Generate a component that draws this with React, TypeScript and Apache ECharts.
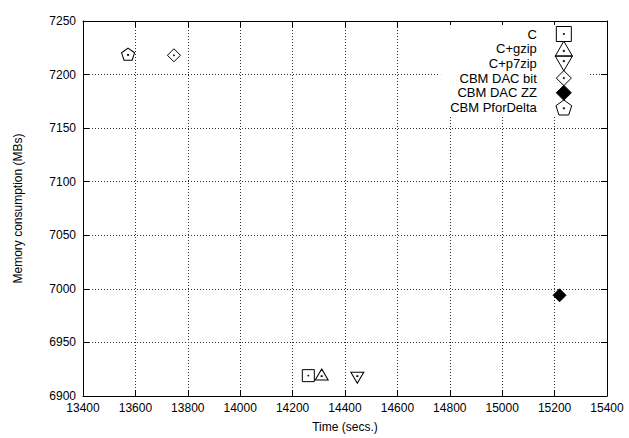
import React, { useEffect, useRef } from "react";
import * as echarts from "echarts";

const seriesNames = ["C", "C+gzip", "C+p7zip", "CBM DAC bit", "CBM DAC ZZ", "CBM PforDelta"];
const timeSecs = [14260, 14311, 14447, 13747, 15219, 13572];
const memoryMBs = [6919, 6920, 6917, 7218, 6994, 7219];

const xTicks = { min: 13400, max: 15400, interval: 200 };
const yTicks = { min: 6900, max: 7250, interval: 50 };

const dot = (cx: number, cy: number) =>
  ` M${cx - 0.35},${cy - 0.35} L${cx + 0.35},${cy - 0.35} L${cx + 0.35},${cy + 0.35} L${cx - 0.35},${cy + 0.35} Z`;

const symbols = [
  "path://M0,0 L10,0 L10,10 L0,10 Z" + dot(5, 5),
  "path://M5,0 L10,8.66 L0,8.66 Z" + dot(5, 5.6),
  "path://M0,0 L10,0 L5,8.66 Z" + dot(5, 3),
  "path://M5,0 L10,5 L5,10 L0,5 Z" + dot(5, 5),
  "path://M5,0 L10,5 L5,10 L0,5 Z",
  "path://M5,0 L9.755,3.455 L7.939,9.045 L2.061,9.045 L0.245,3.455 Z" + dot(5, 5),
];
const symbolSizes = [
  [12, 12],
  [13, 11],
  [13, 11],
  [13, 13],
  [13, 13],
  [13, 12],
];
const filled = [false, false, false, false, true, false];

const FONT = "Liberation Sans";

export default function App() {
  const ref = useRef<HTMLDivElement>(null);
  useEffect(() => {
    if (!ref.current) return;
    const chart = echarts.init(ref.current, undefined, { renderer: "svg" });
    const axisLineStyle = { color: "#000", width: 1 };
    const gridLine = { show: true, lineStyle: { color: "#333", width: 1, type: [1, 2] as any } };
    const plain = (v: number) => String(v);
    chart.setOption({
      animation: false,
      backgroundColor: "#fff",
      grid: { left: 83, right: 22, top: 21, bottom: 42, containLabel: false },
      legend: {
        orient: "vertical",
        align: "right",
        right: 39,
        top: 25,
        itemWidth: 44,
        itemHeight: 15,
        itemGap: -1.3,
        padding: [1, 17, 1, 10],
        backgroundColor: "#fff",
        symbolKeepAspect: true,
        itemStyle: { borderWidth: 1 },
        textStyle: { color: "#000", fontSize: 13, lineHeight: 13, fontFamily: FONT },
        data: seriesNames,
      },
      xAxis: [
        {
          type: "value",
          ...xTicks,
          position: "bottom",
          name: "Time (secs.)",
          nameLocation: "middle",
          nameGap: 25,
          nameTextStyle: { color: "#000", fontSize: 12, fontFamily: FONT },
          axisLine: { show: true, lineStyle: axisLineStyle },
          axisTick: { show: true, inside: true, length: 6, lineStyle: axisLineStyle },
          axisLabel: { color: "#000", fontSize: 12, fontFamily: FONT, margin: 6, formatter: plain },
          splitLine: gridLine,
        },
        {
          type: "value",
          ...xTicks,
          position: "top",
          axisLine: { show: true, lineStyle: axisLineStyle },
          axisTick: { show: true, inside: true, length: 6, lineStyle: axisLineStyle },
          axisLabel: { show: false },
          splitLine: { show: false },
        },
      ],
      yAxis: [
        {
          type: "value",
          ...yTicks,
          position: "left",
          name: "Memory consumption (MBs)",
          nameLocation: "middle",
          nameGap: 59,
          nameTextStyle: { color: "#000", fontSize: 12, fontFamily: FONT },
          axisLine: { show: true, lineStyle: axisLineStyle },
          axisTick: { show: true, inside: true, length: 6, lineStyle: axisLineStyle },
          axisLabel: { color: "#000", fontSize: 12, fontFamily: FONT, margin: 7, formatter: plain },
          splitLine: gridLine,
        },
        {
          type: "value",
          ...yTicks,
          position: "right",
          axisLine: { show: true, lineStyle: axisLineStyle },
          axisTick: { show: true, inside: true, length: 6, lineStyle: axisLineStyle },
          axisLabel: { show: false },
          splitLine: { show: false },
        },
      ],
      series: seriesNames.map((name, i) => ({
        name,
        type: "scatter",
        xAxisIndex: 0,
        yAxisIndex: 0,
        symbol: symbols[i],
        symbolSize: symbolSizes[i],
        z: 5,
        itemStyle: {
          color: filled[i] ? "#000" : "rgba(0,0,0,0)",
          borderColor: "#000",
          borderWidth: 1,
          opacity: 1,
        },
        emphasis: { disabled: true },
        data: [[timeSecs[i], memoryMBs[i]]],
      })),
    });
    return () => chart.dispose();
  }, []);
  return (
    <div
      ref={ref}
      style={{ position: "fixed", left: 0, top: 0, width: 629, height: 438 }}
    />
  );
}
